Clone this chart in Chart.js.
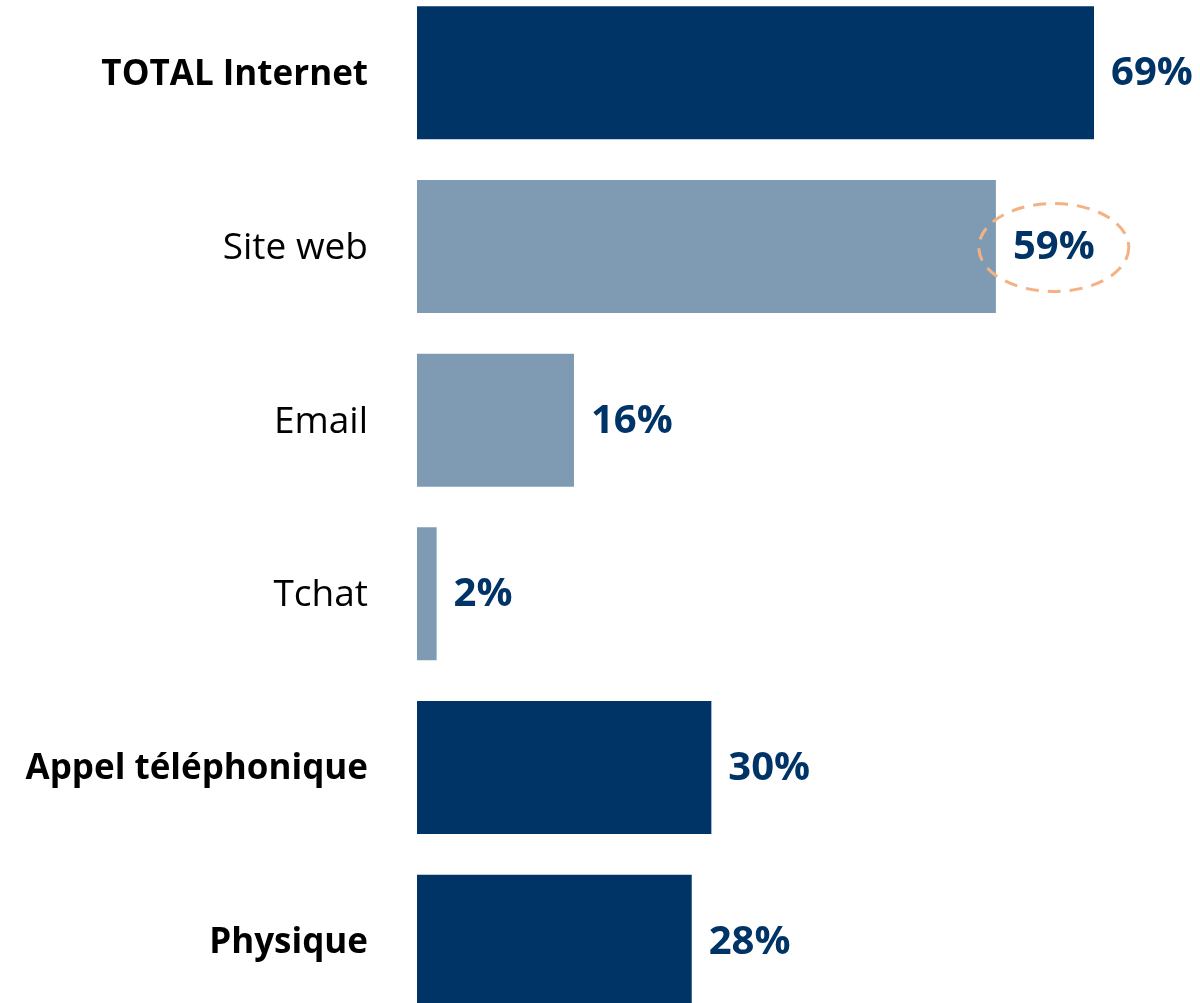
<!DOCTYPE html>
<html>
<head>
<meta charset="utf-8">
<script src="https://cdn.jsdelivr.net/npm/chart.js@4.4.1/dist/chart.umd.min.js"></script>
<style>
html,body{margin:0;padding:0;background:#fff;overflow:hidden;width:1200px;height:1003px;}
#c{position:absolute;left:0;top:-14px;}
</style>
</head>
<body>
<canvas id="c" width="1200" height="1042"></canvas>
<script>
const categories = ["TOTAL Internet", "Site web", "Email", "Tchat", "Appel téléphonique", "Physique"];
const values = [69, 59, 16, 2, 30, 28];
const isMain = [true, false, false, false, true, true];
const highlighted = ["Site web"];

const DARK = "#003466";
const LIGHT = "#7f9bb4";
const FONT = "'Open Sans', Lato, sans-serif";

const valueLabels = {
  id: "valueLabels",
  afterDatasetsDraw(chart) {
    const ctx = chart.ctx;
    const meta = chart.getDatasetMeta(0);
    ctx.save();
    ctx.font = "bold 40px " + FONT;
    ctx.fillStyle = "#003466";
    ctx.textBaseline = "middle";
    ctx.textAlign = "left";
    meta.data.forEach((bar, i) => {
      const txt = values[i] + "%";
      const x = bar.x + 17;
      const y = bar.y + 1;
      ctx.fillText(txt, x, y);
      if (highlighted.includes(categories[i])) {
        const w = ctx.measureText(txt).width;
        ctx.save();
        ctx.strokeStyle = "#f4b183";
        ctx.lineWidth = 3;
        ctx.setLineDash([13, 9]);
        ctx.beginPath();
        ctx.ellipse(x + w / 2, y, 75, 44, 0, 0, Math.PI * 2);
        ctx.stroke();
        ctx.restore();
      }
    });
    ctx.restore();
  }
};

new Chart(document.getElementById("c"), {
  type: "bar",
  data: {
    labels: categories,
    datasets: [{
      data: values,
      backgroundColor: isMain.map(m => m ? DARK : LIGHT),
      borderWidth: 0,
      categoryPercentage: 1,
      barPercentage: 0.766
    }]
  },
  options: {
    indexAxis: "y",
    responsive: false,
    animation: false,
    layout: { padding: 0 },
    plugins: { legend: { display: false }, tooltip: { enabled: false } },
    scales: {
      x: { display: false, min: 0, max: 79.8 },
      y: {
        grid: { display: false, drawTicks: false },
        border: { display: false },
        afterFit(scale) { scale.width = 417; scale.paddingTop = 0; scale.paddingBottom = 0; },
        ticks: {
          padding: 49,
          labelOffset: 2,
          color: "#000",
          font: (ctx) => ({ family: FONT, size: isMain[ctx.index] ? 35 : 37, weight: isMain[ctx.index] ? "bold" : "normal" })
        }
      }
    }
  },
  plugins: [valueLabels]
});
</script>
</body>
</html>
